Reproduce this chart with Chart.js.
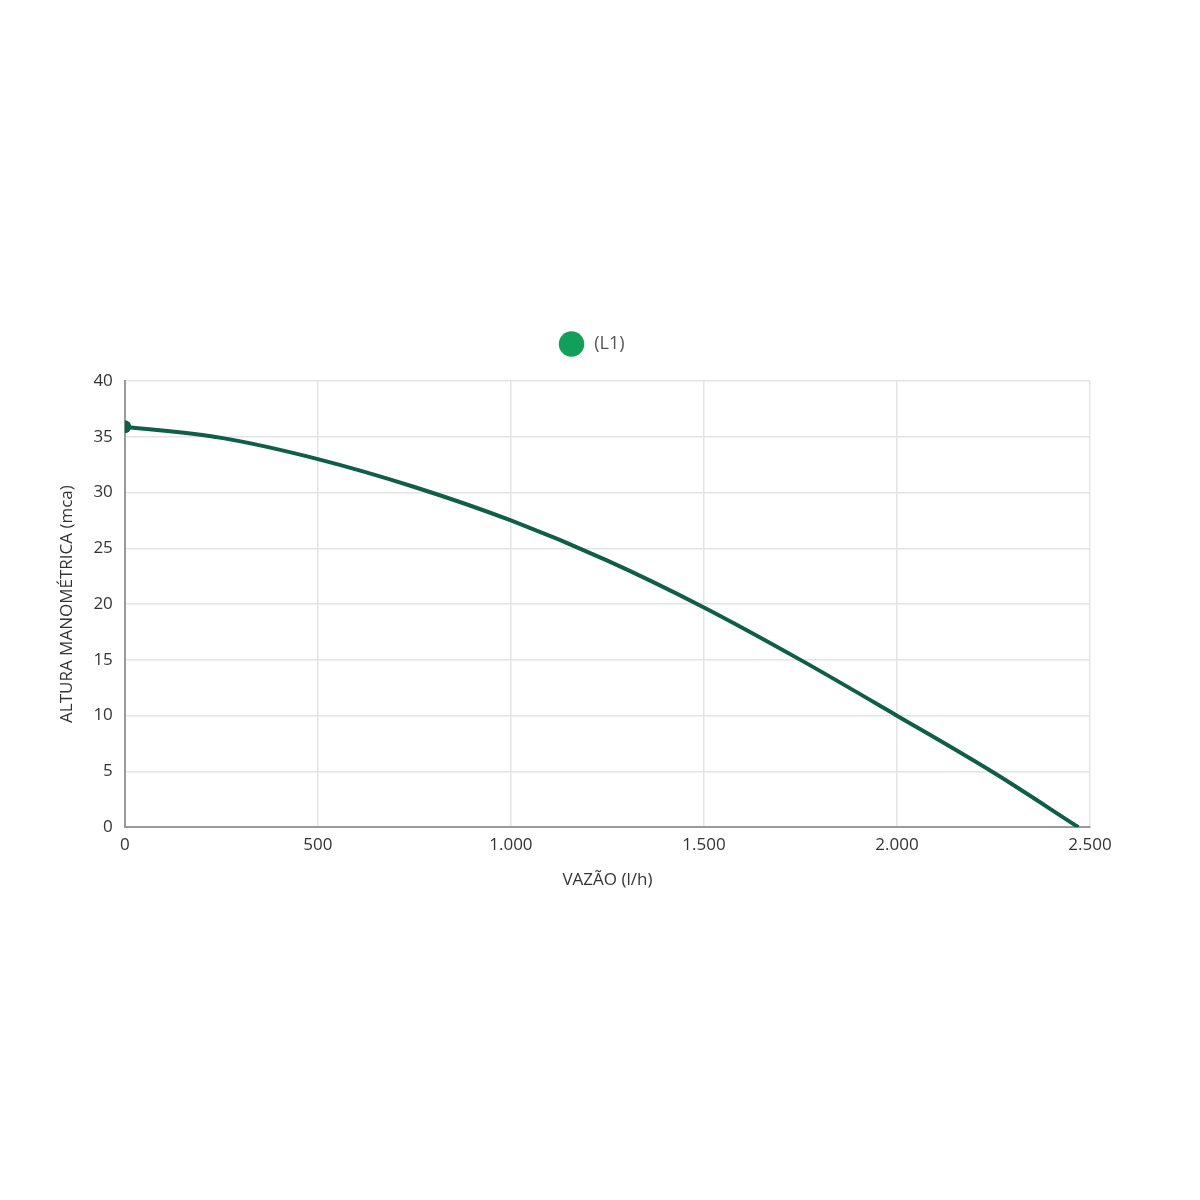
<!DOCTYPE html>
<html>
<head>
<meta charset="utf-8">
<script src="https://cdn.jsdelivr.net/npm/chart.js@4.4.1/dist/chart.umd.min.js"></script>
<style>
  html, body { margin: 0; padding: 0; background: #fff; }
  #wrap { position: absolute; left: 0; top: 0; width: 1200px; height: 1200px; }
</style>
</head>
<body>
<div id="wrap"><canvas id="c" width="1200" height="1200"></canvas></div>
<script>
const seriesName = '(L1)';
const flowValues = [0, 250, 500, 750, 1000, 1250, 1500, 1750, 2000, 2250, 2470];
const headValues = [35.9, 34.9, 33.0, 30.5, 27.5, 23.9, 19.7, 15.0, 10.0, 4.9, 0];
const xTickValues = [0, 500, 1000, 1500, 2000, 2500];
const yTickValues = [0, 5, 10, 15, 20, 25, 30, 35, 40];

function fmt(v) {
  return String(v).replace(/\B(?=(\d{3})+(?!\d))/g, '.');
}

const points = flowValues.map((x, i) => ({ x: x, y: headValues[i] }));
const font = "'Open Sans', 'Noto Sans', sans-serif";

const legendSpacer = {
  id: 'legendSpacer',
  beforeInit(chart) {
    const lg = chart.legend;
    const origFit = lg.fit;
    lg.fit = function () {
      origFit.call(this);
      this.height += 18;
    };
    const origDraw = lg.draw;
    lg.draw = function () {
      const ctx = this.ctx;
      ctx.save();
      ctx.translate(22, 0);
      origDraw.call(this);
      ctx.restore();
    };
  }
};

new Chart(document.getElementById('c'), {
  type: 'line',
  data: {
    datasets: [{
      label: seriesName,
      data: points,
      borderColor: '#0f5e48',
      backgroundColor: '#11a05a',
      borderWidth: 4,
      cubicInterpolationMode: 'monotone',
      pointRadius: points.map((p, i) => i === 0 ? 6.5 : 0),
      pointBackgroundColor: '#0f5e48',
      pointBorderWidth: 0,
      fill: false
    }]
  },
  plugins: [legendSpacer],
  options: {
    responsive: false,
    animation: false,
    devicePixelRatio: 1,
    layout: { padding: { left: 53, right: 110, top: 325, bottom: 306 } },
    plugins: {
      legend: {
        display: true,
        position: 'top',
        labels: {
          usePointStyle: true,
          pointStyle: 'circle',
          boxWidth: 20,
          boxHeight: 20,
          padding: 10,
          color: '#555',
          font: { family: font, size: 18 },
          generateLabels: (chart) => [{
            text: ' ' + seriesName,
            fillStyle: '#11a05a',
            strokeStyle: '#11a05a',
            lineWidth: 0,
            pointStyle: 'circle',
            fontColor: '#555',
            datasetIndex: 0
          }]
        }
      },
      tooltip: { enabled: false }
    },
    scales: {
      x: {
        type: 'linear',
        min: 0,
        max: 2500,
        afterBuildTicks: (axis) => { axis.ticks = xTickValues.map(v => ({ value: v })); },
        ticks: {
          color: '#333',
          font: { family: font, size: 17 },
          padding: 8,
          maxRotation: 0,
          callback: (v) => fmt(v)
        },
        grid: { color: '#e4e4e4', lineWidth: 1.5, tickLength: 0, drawTicks: false },
        border: { color: '#9a9a9a', width: 2 },
        title: {
          display: true,
          text: 'VAZÃO (l/h)',
          color: '#333',
          font: { family: font, size: 17 },
          padding: { top: 6 }
        }
      },
      y: {
        type: 'linear',
        min: 0,
        max: 40,
        afterBuildTicks: (axis) => { axis.ticks = yTickValues.map(v => ({ value: v })); },
        ticks: {
          color: '#333',
          font: { family: font, size: 17 },
          padding: 12
        },
        grid: { color: '#e4e4e4', lineWidth: 1.5, tickLength: 0, drawTicks: false },
        border: { color: '#9a9a9a', width: 2 },
        title: {
          display: true,
          text: 'ALTURA MANOMÉTRICA (mca)',
          color: '#333',
          font: { family: font, size: 17 },
          padding: { bottom: 4 }
        }
      }
    }
  }
});
</script>
</body>
</html>
